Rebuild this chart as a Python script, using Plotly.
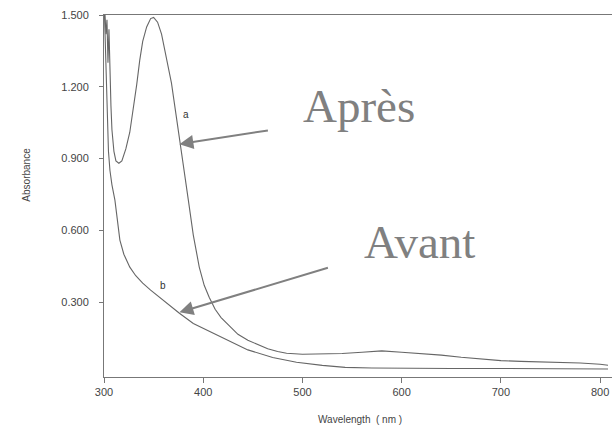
import plotly.graph_objects as go

# Curve a (après)
wl_a = [301, 302, 303, 304, 305, 306, 307, 308, 310, 312, 315, 318, 322, 326, 330, 333, 336, 339, 343, 347,
        350, 354, 358, 363, 368, 372, 375, 380, 385, 390, 396, 401, 406, 412, 418, 424, 435, 445, 454,
        465, 475, 484, 500, 520, 540, 560, 580, 600, 620, 640, 660, 680, 700, 720, 740, 760, 780, 800, 808]
abs_a = [1.50, 1.42, 1.48, 1.30, 1.44, 1.20, 1.12, 1.02, 0.93, 0.89, 0.88, 0.89, 0.94, 1.01, 1.12, 1.21,
         1.31, 1.39, 1.45, 1.485, 1.49, 1.47, 1.42, 1.32, 1.215, 1.10, 1.006, 0.87, 0.726, 0.58, 0.446,
         0.37, 0.32, 0.27, 0.235, 0.21, 0.165, 0.14, 0.125, 0.105, 0.093, 0.086, 0.082, 0.082, 0.085,
         0.09, 0.096, 0.09, 0.085, 0.078, 0.069, 0.062, 0.055, 0.052, 0.05, 0.048, 0.045, 0.04, 0.036]

# Curve b (avant)
wl_b = [300.5, 302, 303.5, 304.5, 306, 308, 311, 313, 316, 320, 326, 332, 339, 347, 356, 366, 376, 390,
        412, 430, 445, 470, 494, 520, 543, 570, 593, 650, 700, 750, 808]
abs_b = [1.50, 1.30, 1.05, 0.93, 0.85, 0.79, 0.726, 0.65, 0.559, 0.50, 0.446, 0.41, 0.379, 0.35, 0.32,
         0.285, 0.253, 0.21, 0.165, 0.13, 0.10, 0.068, 0.048, 0.035, 0.027, 0.024, 0.023, 0.022,
         0.022, 0.021, 0.02]

y_ticks = [0.3, 0.6, 0.9, 1.2, 1.5]
x_ticks = [300, 400, 500, 600, 700, 800]

line_col = "#666666"
fig = go.Figure()
fig.add_trace(go.Scatter(x=wl_a, y=abs_a, mode="lines", line=dict(color=line_col, width=1.1),
                         showlegend=False, hoverinfo="skip"))
fig.add_trace(go.Scatter(x=wl_b, y=abs_b, mode="lines", line=dict(color=line_col, width=1.1),
                         showlegend=False, hoverinfo="skip"))

tick_font = dict(family="Liberation Sans, Arial, sans-serif", size=11, color="#444444")
ann_col = "#808080"
serif = "Liberation Serif, Times New Roman, serif"

fig.update_layout(
    width=612, height=443,
    margin=dict(l=104, r=0, t=15, b=66),
    paper_bgcolor="white", plot_bgcolor="white",
    xaxis=dict(range=[300, 812], tickvals=x_ticks, ticks="outside", ticklen=5, tickcolor="#777777",
               showline=True, linecolor="#777777", linewidth=1, mirror=True, showgrid=False,
               zeroline=False, tickfont=tick_font, ticklabeloverflow="allow"),
    yaxis=dict(range=[-0.0134, 1.5], tickvals=y_ticks, tickformat=".3f", ticks="outside", ticklen=4,
               tickcolor="#777777", showline=True, linecolor="#777777", linewidth=1, showgrid=False,
               zeroline=False, tickfont=tick_font, ticklabelstandoff=8),
    annotations=[
        dict(text="Absorbance", xref="paper", yref="paper", x=-0.169, y=0.558, showarrow=False,
             textangle=-90, font=dict(family="Liberation Sans, Arial, sans-serif", size=10, color="#444444")),
        dict(text="Wavelength  ( nm )", xref="paper", yref="paper", x=0.504, y=-0.138, showarrow=False,
             font=dict(family="Liberation Sans, Arial, sans-serif", size=10, color="#444444")),
        dict(text="a", x=383, y=1.086, showarrow=False,
             font=dict(family="Liberation Sans, Arial, sans-serif", size=10, color="#333333")),
        dict(text="b", x=359, y=0.37, showarrow=False,
             font=dict(family="Liberation Sans, Arial, sans-serif", size=10, color="#333333")),
        dict(text="Après", xref="paper", yref="paper", x=(301 - 104) / 508, y=(377 - 106) / 362,
             xanchor="left", yanchor="middle", showarrow=False,
             font=dict(family=serif, size=47, color=ann_col)),
        dict(text="Avant", xref="paper", yref="paper", x=(362 - 104) / 508, y=(377 - 242) / 362,
             xanchor="left", yanchor="middle", showarrow=False,
             font=dict(family=serif, size=47, color=ann_col)),
        dict(text="", x=376, y=0.96, ax=90, ay=-14, showarrow=True, arrowhead=2, arrowsize=1.4,
             arrowwidth=2, arrowcolor=ann_col),
        dict(text="", x=376, y=0.257, ax=150, ay=-45, showarrow=True, arrowhead=2, arrowsize=1.4,
             arrowwidth=2, arrowcolor=ann_col),
    ],
)

fig.write_html(
    "out.html",
    config={"displayModeBar": False},
    post_script=(
        "document.body.style.margin='0px';"
        "var gd=document.getElementById('{plot_id}');"
        "Plotly.relayout(gd, {'xaxis.ticklabeloverflow':'allow'});"
    ),
)
